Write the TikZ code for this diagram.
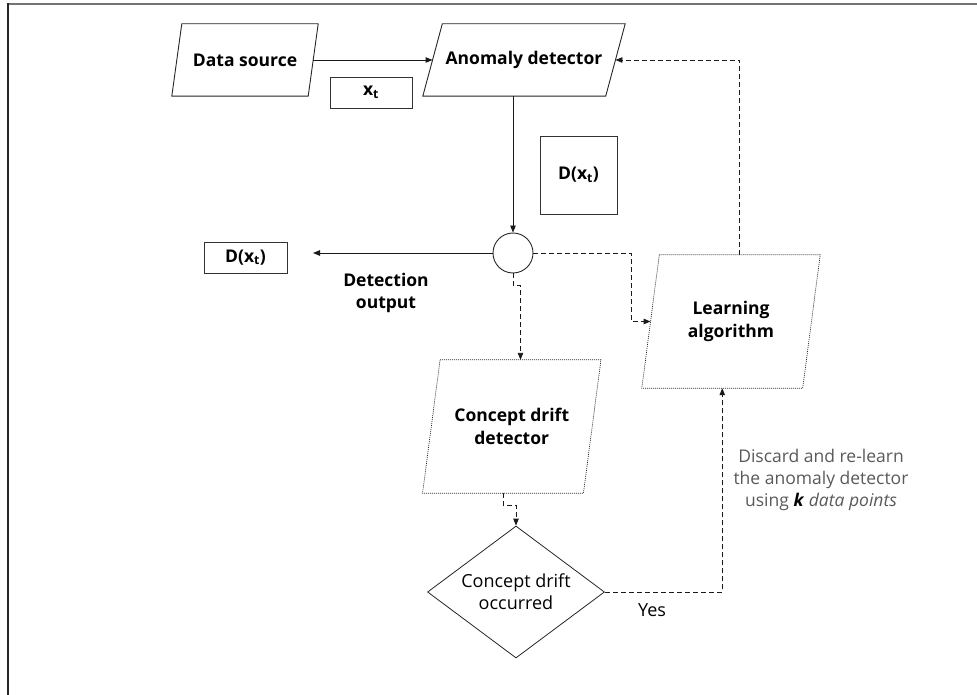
\documentclass[tikz,border=0pt]{standalone}
\usepackage{fontspec}
\setmainfont{Open Sans}
\usetikzlibrary{arrows.meta,shapes.geometric,calc}
\newcommand\drawslant[3]{%
  \draw[#3] ([xshift=#2]#1.north west) -- ([xshift=#2]#1.north east) -- ([xshift=-#2]#1.south east) -- ([xshift=-#2]#1.south west) -- cycle;}
\begin{document}
\begin{tikzpicture}[x=1pt,y=-1pt,
  font=\fontsize{17.5}{22}\selectfont,
  lbl/.style={inner sep=0, align=center, font=\fontsize{17.5}{22.5}\selectfont\bfseries},
  pbox/.style={draw=black!80, line width=0.9pt, inner sep=0, font=\fontsize{17.5}{22}\selectfont\bfseries},
  solidedge/.style={draw=black!85, line width=0.9pt},
  dotedge/.style={draw=black!85, line width=0.7pt, dash pattern=on 1pt off 1pt},
  flow/.style={draw=black!90, line width=0.9pt, -{Triangle[length=7pt,width=5.5pt]}},
  dflow/.style={flow, dash pattern=on 5pt off 3pt},
  framel/.style={line width=2pt}
]
\useasboundingbox (0,0) rectangle (977,695);
% frame
\draw[framel, draw=black!55] (7,4) -- (977,4);
\draw[framel, draw=black!85] (7.5,3) -- (7.5,695);

% nodes
\node[lbl, minimum width=136pt, minimum height=72pt] (ds) at (245,60) {Data source};
\drawslant{ds}{5pt}{solidedge}
\node[lbl, minimum width=182.5pt, minimum height=72pt] (ad) at (524,60) {Anomaly detector};
\drawslant{ad}{9.75pt}{solidedge}
\node[pbox, minimum width=82pt, minimum height=31pt] (xt) at (371,92.5) {x\textsubscript{t}};
\node[pbox, minimum width=77pt, minimum height=78pt] (dmid) at (578.5,175) {D(x\textsubscript{t})};
\node[circle, draw=black!85, line width=0.9pt, minimum size=40pt, inner sep=0] (c) at (513,253) {};
\node[pbox, minimum width=83pt, minimum height=31pt] (dl) at (245.5,257.5) {D(x\textsubscript{t})};
\coordinate (outend) at (313,253);
\node[lbl] (detout) at (386,293) {Detection\\output};
\node[lbl, minimum width=160.5pt, minimum height=133pt] (la) at (731,321.5) {Learning\\algorithm};
\drawslant{la}{8.75pt}{dotedge}
\node[lbl, minimum width=160.5pt, minimum height=133pt] (cd) at (511.75,426.5) {Concept drift\\detector};
\drawslant{cd}{8.75pt}{dotedge}
\node[diamond, draw=black!85, line width=0.8pt, minimum width=177pt, minimum height=132pt, aspect=1.34, inner sep=0, align=center, font=\fontsize{18}{22}\selectfont] (dm) at (516,592) {Concept drift\\occurred};
\node[inner sep=0, font=\fontsize{18}{22}\selectfont] (yes) at (652,610) {Yes};
\node[inner sep=0, align=center, text=black!65, font=\fontsize{17.5}{22}\selectfont] (note) at (821,480) {Discard and re-learn\\the anomaly detector\\using \textcolor{black}{\textbf{\textit{k}}} \textit{data points}};

% connectors
\draw[flow] (ds.east) -- (ad.west);
\draw[flow] (ad.south -| c.north) -- (c.north);
\draw[flow] (c.west) -- (outend);
\draw[dflow] (c.east) -- ++(98,0) |- (la.west);
\draw[dflow] (c.south) -- ++(0,12) -| ([xshift=8.75pt]cd.north);
\draw[dflow] ([xshift=-8.75pt]cd.south) -- ++(0,12) -| (dm.north);
\draw[dflow] (dm.east) -| ([xshift=-8.75pt]la.south);
\draw[dflow] ([xshift=8.75pt]la.north) |- (ad.east);
\end{tikzpicture}
\end{document}
